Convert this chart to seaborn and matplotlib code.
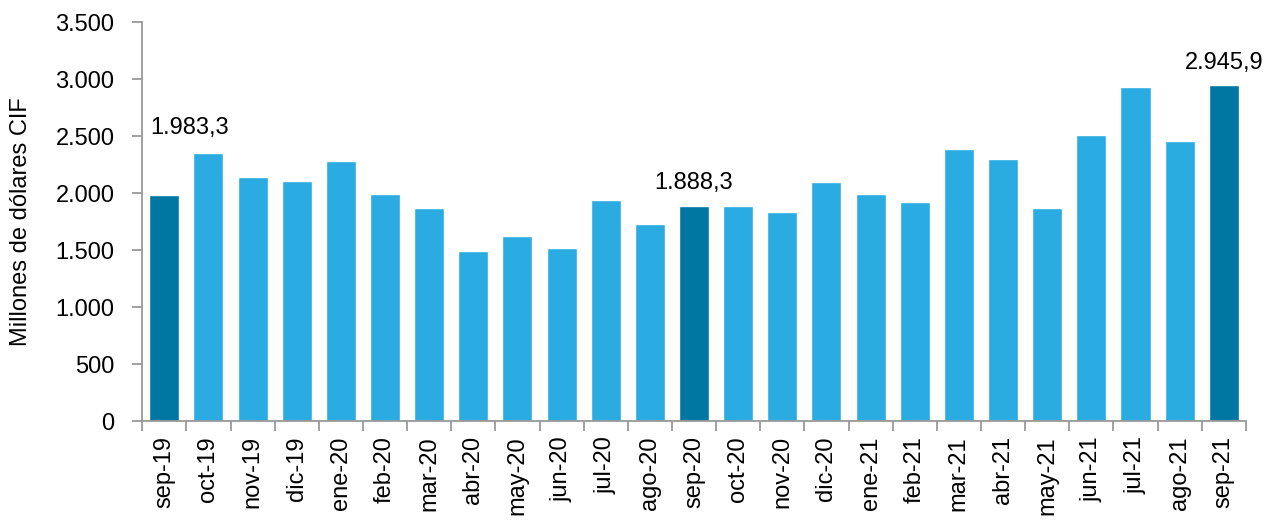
import numpy as np
import pandas as pd
import seaborn as sns
import matplotlib.pyplot as plt
from matplotlib.ticker import FuncFormatter, MultipleLocator

meses = ['sep-19', 'oct-19', 'nov-19', 'dic-19', 'ene-20', 'feb-20', 'mar-20',
         'abr-20', 'may-20', 'jun-20', 'jul-20', 'ago-20', 'sep-20', 'oct-20',
         'nov-20', 'dic-20', 'ene-21', 'feb-21', 'mar-21', 'abr-21', 'may-21',
         'jun-21', 'jul-21', 'ago-21', 'sep-21']
valores = [1983.3, 2354, 2142, 2106, 2277, 1994, 1870, 1490, 1623, 1517, 1941,
           1728, 1888.3, 1890, 1835, 2100, 1994, 1923, 2383, 2295, 1870, 2508,
           2933, 2455, 2945.9]
destacados = ['sep-19', 'sep-20', 'sep-21']

df = pd.DataFrame({'mes': meses, 'valor': valores})
df['tipo'] = np.where(df['mes'].isin(destacados), 'sep', 'otro')

sns.set_style('white')
plt.rcParams['font.family'] = ['Liberation Sans', 'DejaVu Sans']
plt.rcParams['text.color'] = 'black'
plt.rcParams['axes.labelcolor'] = 'black'

fig, ax = plt.subplots(figsize=(12.7, 5.25), dpi=100)
fig.subplots_adjust(left=0.112, right=0.981, top=0.958, bottom=0.198)

sns.barplot(data=df, x='mes', y='valor', hue='tipo', dodge=False, width=0.68,
            palette={'sep': '#0077a3', 'otro': '#2aabe2'}, legend=False,
            saturation=1, ax=ax)

ax.set_xlim(-0.5, len(meses) - 0.5)
ax.set_ylim(0, 3500)
ax.yaxis.set_major_locator(MultipleLocator(500))
ax.yaxis.set_major_formatter(FuncFormatter(lambda v, p: f'{v:,.0f}'.replace(',', '.')))

ax.set_xticks(range(len(meses)))
ax.set_xticklabels(meses, rotation=90, fontsize=17)
ax.set_xticks(np.arange(-0.5, len(meses)), minor=True)
ax.tick_params(axis='x', which='major', bottom=True, length=0, pad=11, labelcolor='black')
ax.tick_params(axis='x', which='minor', bottom=True, length=7, color='#999999', width=1.3)
ax.tick_params(axis='y', left=True, length=7, color='#999999', width=1.3,
               labelsize=17, labelcolor='black', pad=13)

ax.set_xlabel('')
ax.set_ylabel('Millones de dólares CIF', fontsize=17, labelpad=17)

for s in ['top', 'right']:
    ax.spines[s].set_visible(False)
for s in ['left', 'bottom']:
    ax.spines[s].set_color('#999999')
    ax.spines[s].set_linewidth(1.3)

# (desplazamiento x en categorías, desplazamiento y en unidades)
ajustes = {'sep-19': (0.57, 490), 'sep-20': (0, 105), 'sep-21': (0, 100)}
for m in destacados:
    i = meses.index(m)
    v = valores[i]
    dx, dy = ajustes[m]
    txt = f'{v:,.1f}'.replace(',', 'X').replace('.', ',').replace('X', '.')
    ax.text(i + dx, v + dy, txt, ha='center', va='bottom', fontsize=17)

fig.savefig('out.png', dpi=100)
